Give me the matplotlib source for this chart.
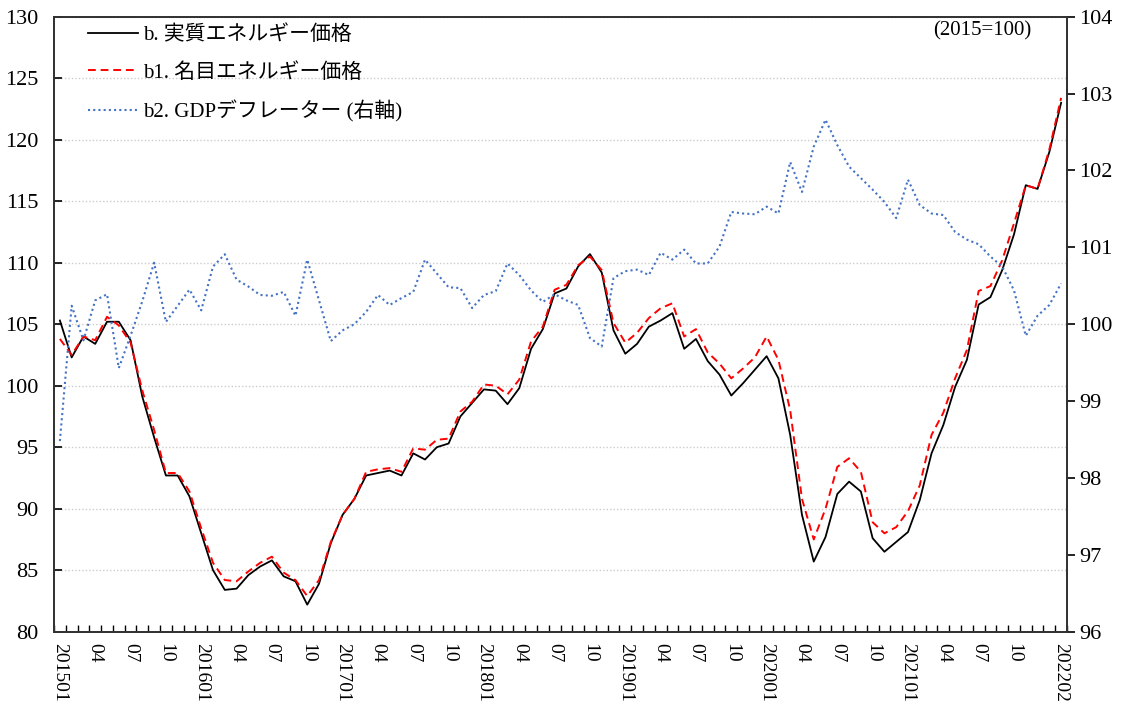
import numpy as np
import matplotlib
matplotlib.use('Agg')
import matplotlib.pyplot as plt
from matplotlib.ticker import FixedLocator, MultipleLocator

plt.rcParams['font.family'] = ['Liberation Serif', 'Noto Sans CJK JP']

# 2015年1月～2022年2月（月次）
months = []
for y in range(2015, 2023):
    for m in range(1, 13):
        if y == 2022 and m > 2:
            break
        months.append('%d%02d' % (y, m))

# b. 実質エネルギー価格
real_energy = [105.3, 102.3, 104.0, 103.4, 105.2, 105.2, 103.7, 99.1, 95.8, 92.7,
               92.7, 91.0, 88.0, 85.0, 83.4, 83.5, 84.6, 85.3, 85.8, 84.5,
               84.1, 82.2, 83.9, 87.2, 89.5, 90.8, 92.7, 92.9, 93.1, 92.7,
               94.5, 94.0, 95.0, 95.3, 97.5, 98.6, 99.7, 99.6, 98.5, 99.8,
               103.0, 104.6, 107.5, 107.9, 109.7, 110.7, 109.2, 104.5, 102.6, 103.4,
               104.8, 105.3, 105.9, 103.0, 103.8, 102.0, 100.9, 99.2, 100.2, 101.3,
               102.4, 100.6, 96.0, 89.5, 85.7, 87.7, 91.2, 92.2, 91.4, 87.6,
               86.5, 87.3, 88.1, 90.7, 94.5, 96.8, 99.9, 102.1, 106.6, 107.2,
               109.4, 112.3, 116.3, 116.0, 119.0, 123.0]

# b1. 名目エネルギー価格
nominal_energy = [103.8, 102.5, 104.0, 103.7, 105.6, 104.9, 103.5, 99.6, 96.4, 92.9,
                  92.9, 91.4, 88.4, 85.6, 84.2, 84.1, 84.9, 85.6, 86.1, 84.8,
                  84.2, 82.9, 84.2, 87.3, 89.5, 90.8, 93.0, 93.2, 93.3, 93.0,
                  94.9, 94.8, 95.6, 95.7, 97.9, 98.7, 100.1, 100.0, 99.3, 100.5,
                  103.6, 104.8, 107.8, 108.2, 109.8, 110.5, 109.4, 105.1, 103.5, 104.3,
                  105.5, 106.3, 106.7, 104.0, 104.6, 102.7, 101.8, 100.6, 101.4, 102.3,
                  104.0, 102.1, 98.0, 90.8, 87.5, 90.0, 93.4, 94.1, 93.0, 88.9,
                  88.0, 88.5, 89.8, 91.9, 96.0, 97.8, 100.6, 102.9, 107.7, 108.1,
                  110.2, 113.2, 116.3, 116.0, 119.2, 123.4]

# b2. GDPデフレーター（右軸）
gdp_deflator = [98.48, 100.24, 99.79, 100.31, 100.39, 99.43, 99.85, 100.3, 100.8, 100.03,
                100.24, 100.45, 100.18, 100.75, 100.91, 100.58, 100.49, 100.38, 100.37, 100.42,
                100.11, 100.84, 100.31, 99.78, 99.92, 100.0, 100.16, 100.38, 100.25, 100.34,
                100.42, 100.84, 100.66, 100.48, 100.47, 100.21, 100.38, 100.43, 100.79, 100.64,
                100.44, 100.29, 100.39, 100.31, 100.25, 99.82, 99.71, 100.6, 100.69, 100.71,
                100.64, 100.93, 100.84, 100.97, 100.79, 100.79, 101.01, 101.46, 101.44, 101.43,
                101.53, 101.44, 102.11, 101.72, 102.31, 102.66, 102.33, 102.05, 101.9, 101.75,
                101.59, 101.38, 101.88, 101.55, 101.44, 101.42, 101.2, 101.1, 101.04, 100.88,
                100.75, 100.44, 99.85, 100.11, 100.25, 100.53]

x = np.arange(len(months))

fig = plt.figure(figsize=(11.23, 7.07), dpi=100)
ax = fig.add_axes([54 / 1123, 1 - 631.7 / 707, (1067 - 54) / 1123, (631.7 - 16.7) / 707])
ax2 = ax.twinx()

l1, = ax.plot(x, real_energy, color='black', lw=1.3, label='b. 実質エネルギー価格')
l2, = ax.plot(x, nominal_energy, color='#ff0000', lw=1.4, ls=(0, (4, 2.5)), label='b1. 名目エネルギー価格')
l3, = ax2.plot(x, gdp_deflator, color='#4472c4', lw=1.5, ls=(0, (1, 1.5)), label='b2. GDPデフレーター (右軸)')

# 左軸
ax.set_ylim(80, 130)
ax.yaxis.set_major_locator(MultipleLocator(5))
ax.grid(axis='y', color='#cccccc', ls=(0, (1, 1.5)), lw=1.0)
ax.set_axisbelow(True)
ax.tick_params(axis='y', direction='in', length=6, width=1.2, labelsize=16, pad=11)

# 右軸
ax2.set_ylim(96, 104)
ax2.yaxis.set_major_locator(MultipleLocator(1))
ax2.tick_params(axis='y', direction='out', length=6, width=1.2, labelsize=16, pad=3)

# X軸（カテゴリ）：1・4・7・10月と最終月にラベル
ax.set_xlim(-0.5, len(months) - 0.5)
last = len(months) - 1
lab_pos = [i for i in range(len(months)) if i % 3 == 0 and i < last - 1] + [last]
lab_txt = []
for i in lab_pos:
    if months[i].endswith('01') or i == last:
        lab_txt.append(months[i])
    else:
        lab_txt.append(months[i][4:])
ax.set_xticks(lab_pos)
ax.set_xticklabels(lab_txt, rotation=-90, fontsize=14)
ax.xaxis.set_minor_locator(FixedLocator(np.arange(-0.5, len(months), 1.0)))
ax.tick_params(axis='x', which='major', length=0, pad=8)
ax.tick_params(axis='x', which='minor', direction='in', length=5, width=1.0)
ax2.tick_params(axis='x', which='both', length=0)

for a in (ax, ax2):
    for s in a.spines.values():
        s.set_linewidth(1.3)
        s.set_color('#333333')

ax2.legend(handles=[l1, l2, l3], loc='upper left', bbox_to_anchor=(84 / 1123, 1 - 21 / 707),
           bbox_transform=fig.transFigure,
           frameon=False, fontsize=15, handlelength=2.4, handletextpad=0.25,
           labelspacing=0.85, borderaxespad=0, borderpad=0.2)

fig.text(0.918, 0.956, '(2015=100)', fontsize=15, ha='right', va='center')

fig.savefig('out.png', dpi=100)
